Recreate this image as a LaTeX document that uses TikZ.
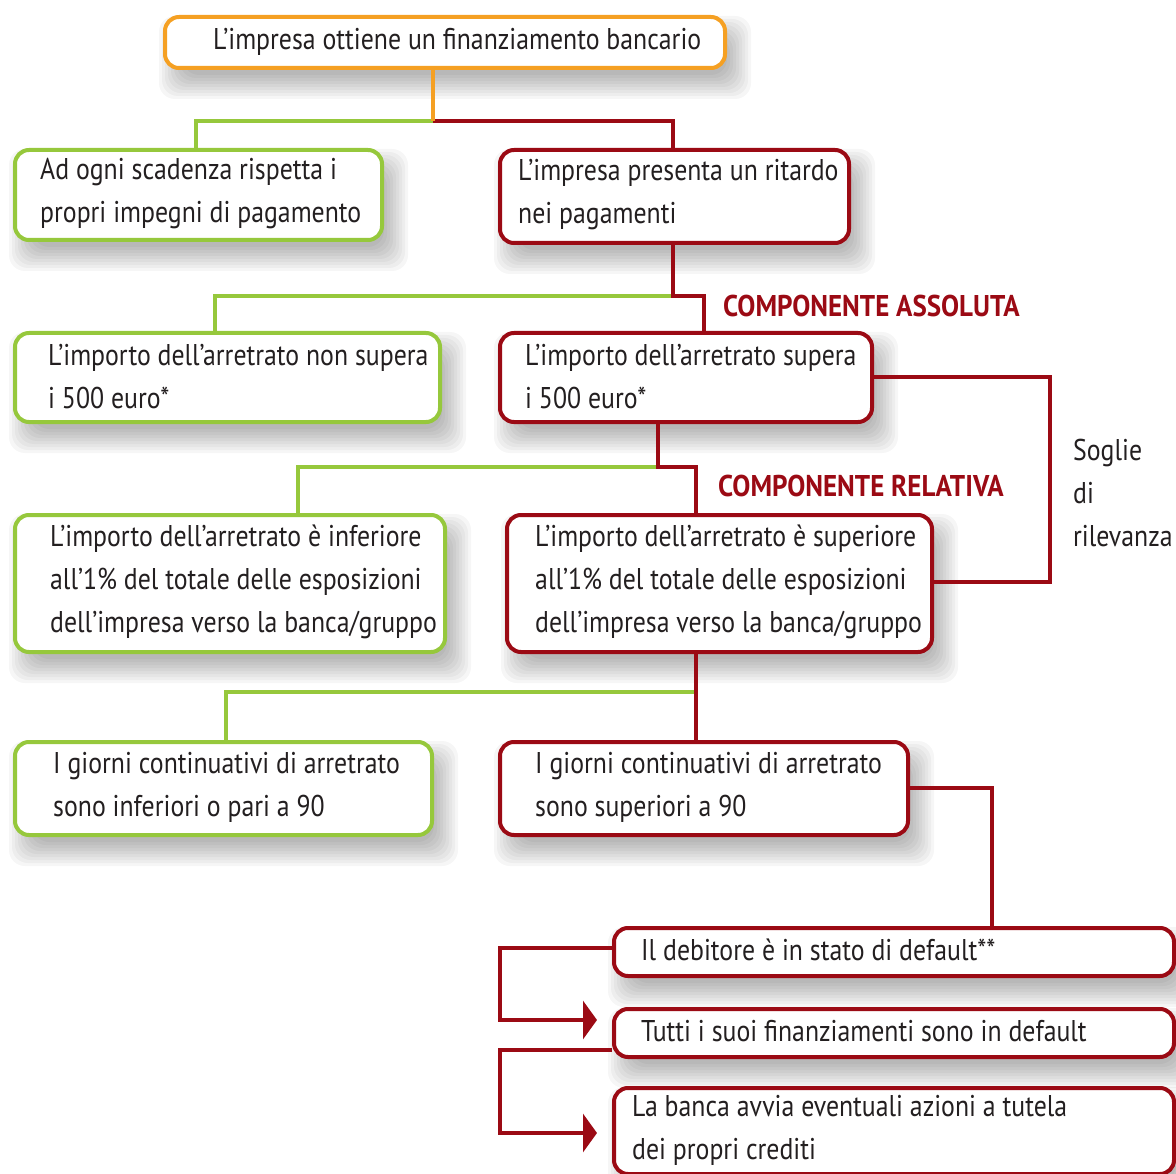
\documentclass[tikz,border=0pt]{standalone}
\usepackage{fontspec}
\setmainfont{PT Sans}[FakeStretch=0.86]
\newfontfamily\labfont{PT Sans Bold}[FakeStretch=0.9]
\usetikzlibrary{backgrounds,arrows.meta,calc}
\definecolor{cor}{HTML}{F5A023}
\definecolor{cgr}{HTML}{96C83C}
\definecolor{cred}{HTML}{9B0A14}
\definecolor{ctx}{HTML}{231F20}
\newcommand\dropshadow[1]{%
  \foreach \e in {14,11,8,5,2,-1,-4,-7,-10}{%
    \fill[black, opacity=0.035, rounded corners=16pt]
      ($(#1.north west)+(10-\e,15-\e)$) rectangle ($(#1.south east)+(10+\e,15+\e)$);
  }}
\begin{document}
\begin{tikzpicture}[x=1pt,y=-1pt,
  boxst/.style={draw, line width=4pt, rounded corners=14pt, fill=white, inner sep=0pt, anchor=north west},
  txt/.style={text=ctx, font=\fontsize{30}{43}\selectfont, align=left, anchor=west, inner sep=0pt},
  lab/.style={text=cred, font=\labfont\fontsize{30}{34}\selectfont, anchor=west, inner sep=0pt},
  conn/.style={line width=4pt},
  tip/.style={-{Triangle[length=14pt,width=38pt]}}
]
\useasboundingbox (0,0) rectangle (1176,1174);

% boxes
\node[boxst, draw=cor,  minimum width=560, minimum height=51] (top) at (163,15) {};
\node[boxst, draw=cgr,  minimum width=367, minimum height=90] (g1) at (13,148) {};
\node[boxst, draw=cred, minimum width=349, minimum height=93] (r1) at (498,148) {};
\node[boxst, draw=cgr,  minimum width=425, minimum height=89] (g2) at (13,331) {};
\node[boxst, draw=cred, minimum width=372, minimum height=89] (r2) at (498,331) {};
\node[boxst, draw=cgr,  minimum width=430, minimum height=137] (g3) at (13,513) {};
\node[boxst, draw=cred, minimum width=425, minimum height=137] (r3) at (505,513) {};
\node[boxst, draw=cgr,  minimum width=417, minimum height=93] (g4) at (13,740) {};
\node[boxst, draw=cred, minimum width=408, minimum height=93] (r4) at (498,740) {};
\node[boxst, draw=cred, minimum width=560, minimum height=48] (r5) at (612,926) {};
\node[boxst, draw=cred, minimum width=560, minimum height=48] (r6) at (612,1007) {};
\node[boxst, draw=cred, minimum width=560, minimum height=86] (r7) at (612,1086) {};

% texts
\node[txt] (topt) at (213,42) {L’impresa ottiene un finanziamento bancario};
\node[txt] (g1t) at (40,194) {Ad ogni scadenza rispetta i\\propri impegni di pagamento};
\node[txt] (r1t) at (518,195) {L’impresa presenta un ritardo\\nei pagamenti};
\node[txt] (g2t) at (48,377) {L’importo dell’arretrato non supera\\i 500 euro*};
\node[txt] (r2t) at (525,377) {L’importo dell’arretrato supera\\i 500 euro*};
\node[txt] (g3t) at (50,582) {L’importo dell’arretrato è inferiore\\all’1\% del totale delle esposizioni\\dell’impresa verso la banca/gruppo};
\node[txt] (r3t) at (535,582) {L’importo dell’arretrato è superiore\\all’1\% del totale delle esposizioni\\dell’impresa verso la banca/gruppo};
\node[txt] (g4t) at (53,787) {I giorni continuativi di arretrato\\sono inferiori o pari a 90};
\node[txt] (r4t) at (535,787) {I giorni continuativi di arretrato\\sono superiori a 90};
\node[txt] (r5t) at (641,950) {Il debitore è in stato di default**};
\node[txt] (r6t) at (641,1031) {Tutti i suoi finanziamenti sono in default};
\node[txt] (r7t) at (632,1130) {La banca avvia eventuali azioni a tutela\\dei propri crediti};

\node[lab] (ass) at (723,306) {COMPONENTE ASSOLUTA};
\node[lab] (rel) at (718,486) {COMPONENTE RELATIVA};
\node[txt] (sog) at (1073,493) {Soglie\\di\\rilevanza};

\begin{scope}[on background layer]
  \foreach \b in {top,g1,r1,g2,r2,g3,r3,g4,r4,r5,r6,r7}{\dropshadow{\b}}
  \coordinate (j1) at (433,121); \coordinate (c1) at (196,121); \coordinate (c2) at (673,121);
  \draw[conn,cgr] (j1) -- (c1) -- (c1 |- g1.north);
  \draw[conn,cred] (j1) -- (c2) -- (c2 |- r1.north);
  \draw[conn,cor] (j1 |- top.south) -- (j1);

  \coordinate (j2) at (673,296); \coordinate (c3) at (215,296); \coordinate (c4) at (704,296);
  \draw[conn,cgr] (j2) -- (c3) -- (c3 |- g2.north);
  \draw[conn,cred] (j2 |- r1.south) -- (j2) -- (c4) -- (c4 |- r2.north);

  \coordinate (j3) at (658,467); \coordinate (c5) at (298,467); \coordinate (c6) at (696,467);
  \draw[conn,cgr] (j3) -- (c5) -- (c5 |- g3.north);
  \draw[conn,cred] (j3 |- r2.south) -- (j3) -- (c6) -- (c6 |- r3.north);

  \coordinate (j4) at (696,692); \coordinate (c7) at (226,692);
  \draw[conn,cgr] (j4) -- (c7) -- (c7 |- g4.north);
  \draw[conn,cred] (j4 |- r3.south) -- (j4 |- r4.north);

  \coordinate (s1) at (1050,377); \coordinate (s2) at (1050,582);
  \draw[conn,cred] (s1 -| r2.east) -- (s1) -- (s2) -- (s2 -| r3.east);

  \coordinate (d1) at (992,788);
  \draw[conn,cred] (d1 -| r4.east) -- (d1) -- (d1 |- r5.north);

  \coordinate (e1) at (500,948); \coordinate (e2) at (500,1020); \coordinate (a1) at (597,1020);
  \draw[conn,cred,tip] (e1 -| r5.west) -- (e1) -- (e2) -- (a1);

  \coordinate (f1) at (500,1050); \coordinate (f2) at (500,1133); \coordinate (a2) at (597,1133);
  \draw[conn,cred,tip] (f1 -| r6.west) -- (f1) -- (f2) -- (a2);
\end{scope}
\end{tikzpicture}
\end{document}
